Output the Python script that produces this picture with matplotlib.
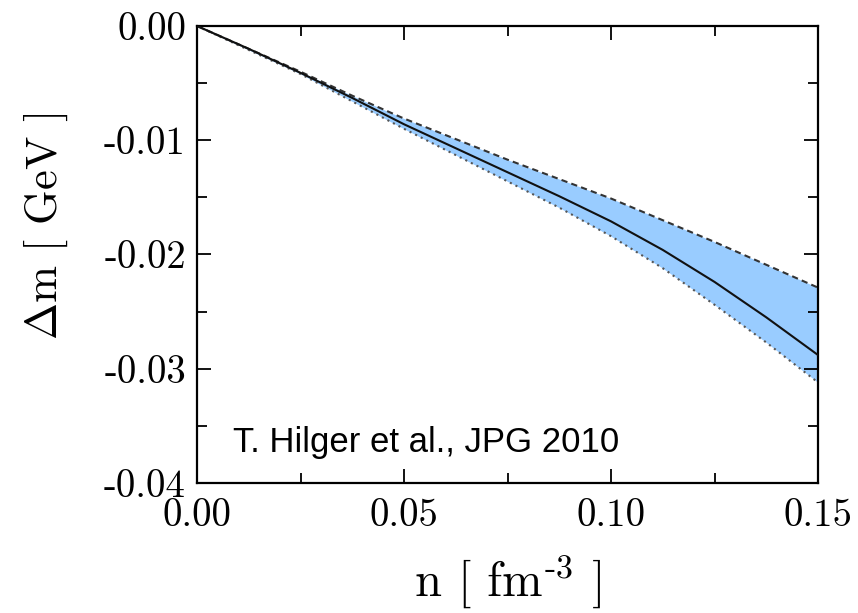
import matplotlib
matplotlib.use("Agg")
import matplotlib.pyplot as plt

plt.rcParams["mathtext.fontset"] = "cm"
plt.rcParams["axes.unicode_minus"] = False

# densidad n [fm^-3] y desplazamiento de masa [GeV]
n = [0.0, 0.0125, 0.025, 0.0375, 0.05, 0.0625, 0.075,
     0.0875, 0.10, 0.1125, 0.125, 0.1375, 0.15]
dm_central = [0.0, -0.0020, -0.0041, -0.0063, -0.0086, -0.0107, -0.0128,
              -0.0149, -0.0171, -0.0196, -0.0224, -0.0255, -0.0288]
dm_upper = [0.0, -0.0020, -0.0040, -0.0061, -0.0081, -0.0099, -0.0117,
            -0.0134, -0.0151, -0.0170, -0.0189, -0.0209, -0.0229]
dm_lower = [0.0, -0.0021, -0.0042, -0.0066, -0.0090, -0.0113, -0.0136,
            -0.0159, -0.0184, -0.0212, -0.0244, -0.0277, -0.0312]

xticks = [0.0, 0.05, 0.10, 0.15]
xticklabels = ["0.00", "0.05", "0.10", "0.15"]
yticks = [0.0, -0.01, -0.02, -0.03, -0.04]
yticklabels = ["0.00", "-0.01", "-0.02", "-0.03", "-0.04"]

fig = plt.figure(figsize=(8.58, 6.13), dpi=100)
ax = fig.add_axes([0.2296, 0.2121, 0.7238, 0.7455])

ax.fill_between(n, dm_lower, dm_upper, color="#99ccff", lw=0, zorder=1)
ax.plot(n, dm_upper, color="#333333", lw=1.5, ls=(0, (3, 2)), zorder=2)
ax.plot(n, dm_lower, color="#555555", lw=1.5, ls=(0, (1, 2)), zorder=2)
ax.plot(n, dm_central, color="#111111", lw=1.5, zorder=3)

ax.set_xlim(0, 0.15)
ax.set_ylim(-0.04, 0.0)
ax.set_xticks(xticks)
ax.set_xticklabels(xticklabels)
ax.set_yticks(yticks)
ax.set_yticklabels(yticklabels)
ax.set_xticks([0.025, 0.075, 0.125], minor=True)
ax.set_yticks([-0.005, -0.015, -0.025, -0.035], minor=True)

for lab in ax.get_xticklabels() + ax.get_yticklabels():
    lab.set_family("cmr10")
    lab.set_fontsize(28)

ax.tick_params(which="both", direction="in", top=True, right=True, width=1.3)
ax.tick_params(which="major", length=10, pad=8)
ax.tick_params(axis="x", which="major", pad=11)
ax.tick_params(which="minor", length=7)
for s in ax.spines.values():
    s.set_linewidth(1.6)

ax.set_xlabel(r"n [ fm$^{\text{-3}}$ ]", family="cmr10", fontsize=35)
ax.set_ylabel(r"$\Delta$m [ GeV ]", family="cmr10", fontsize=32)
ax.xaxis.set_label_coords(0.5, -0.155)
ax.yaxis.set_label_coords(-0.205, 0.563)

ax.text(0.0087, -0.0373, "T. Hilger et al., JPG 2010",
        family="Liberation Sans", fontsize=25, ha="left", va="baseline")

fig.savefig("out.png", dpi=100)
